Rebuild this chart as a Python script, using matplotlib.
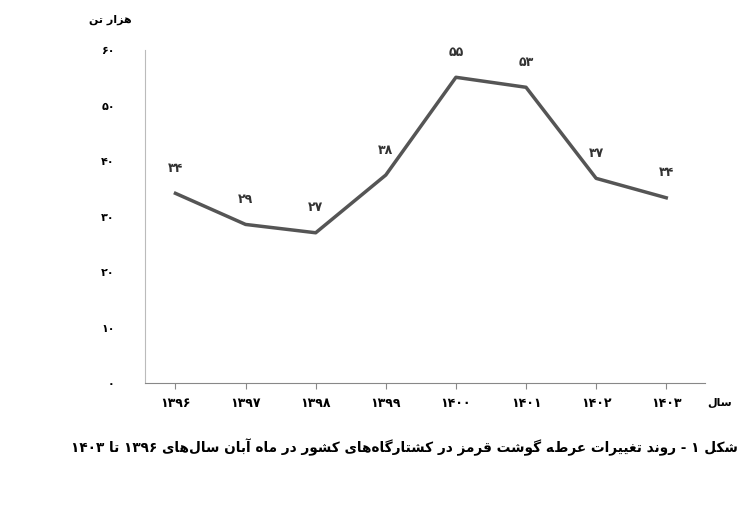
import matplotlib.pyplot as plt

years = ['۱۳۹۶', '۱۳۹۷', '۱۳۹۸', '۱۳۹۹', '۱۴۰۰', '۱۴۰۱', '۱۴۰۲', '۱۴۰۳']
supply = [34.2, 28.6, 27.1, 37.5, 55.1, 53.3, 36.9, 33.4]
point_labels = ['۳۴', '۲۹', '۲۷', '۳۸', '۵۵', '۵۳', '۳۷', '۳۴']
y_ticks = [0, 10, 20, 30, 40, 50, 60]
y_tick_labels = ['۰', '۱۰', '۲۰', '۳۰', '۴۰', '۵۰', '۶۰']
caption = 'شکل ۱ - روند تغییرات عرضه گوشت قرمز در کشتارگاه‌های کشور در ماه آبان سال‌های ۱۳۹۶ تا ۱۴۰۳'
unit_label = 'هزار تن'
x_label = 'سال'

# presentation forms: isolated, final, initial, medial (None = right-joining only)
FORMS = {
    'ا': (0xFE8D, 0xFE8E, None, None), 'آ': (0xFE81, 0xFE82, None, None),
    'د': (0xFEA9, 0xFEAA, None, None), 'ر': (0xFEAD, 0xFEAE, None, None),
    'ز': (0xFEAF, 0xFEB0, None, None), 'و': (0xFEED, 0xFEEE, None, None),
    'ب': (0xFE8F, 0xFE90, 0xFE91, 0xFE92), 'ت': (0xFE95, 0xFE96, 0xFE97, 0xFE98),
    'س': (0xFEB1, 0xFEB2, 0xFEB3, 0xFEB4), 'ش': (0xFEB5, 0xFEB6, 0xFEB7, 0xFEB8),
    'ض': (0xFEBF, 0xFEC0, 0xFEC1, 0xFEC2), 'ع': (0xFEC9, 0xFECA, 0xFECB, 0xFECC),
    'غ': (0xFECD, 0xFECE, 0xFECF, 0xFED0), 'ف': (0xFED1, 0xFED2, 0xFED3, 0xFED4),
    'ق': (0xFED5, 0xFED6, 0xFED7, 0xFED8), 'ل': (0xFEDD, 0xFEDE, 0xFEDF, 0xFEE0),
    'م': (0xFEE1, 0xFEE2, 0xFEE3, 0xFEE4), 'ن': (0xFEE5, 0xFEE6, 0xFEE7, 0xFEE8),
    'ه': (0xFEE9, 0xFEEA, 0xFEEB, 0xFEEC), 'ی': (0xFBFC, 0xFBFD, 0xFBFE, 0xFBFF),
    'ک': (0xFB8E, 0xFB8F, 0xFB90, 0xFB91), 'گ': (0xFB92, 0xFB93, 0xFB94, 0xFB95),
}


def shape_word(w):
    out = []
    for i, c in enumerate(w):
        if c not in FORMS:
            if c != '\u200c':
                out.append(c)
            continue
        prev = w[i - 1] if i > 0 else ''
        nxt = w[i + 1] if i + 1 < len(w) else ''
        jp = prev in FORMS and FORMS[prev][2] is not None
        jn = FORMS[c][2] is not None and nxt in FORMS
        f = FORMS[c]
        code = f[3] if jp and jn else f[1] if jp else f[2] if jn else f[0]
        out.append(chr(code))
    return ''.join(out)


def rtl(text):
    words = text.split(' ')
    vis = []
    for w in reversed(words):
        if all(ch in '۰۱۲۳۴۵۶۷۸۹' for ch in w):
            vis.append(w)
        else:
            vis.append(shape_word(w)[::-1])
    return ' '.join(vis)


plt.rcParams['font.family'] = ['DejaVu Sans']
fig = plt.figure(figsize=(7.53, 5.11), dpi=100)
ax = fig.add_axes([0.193, 0.25, 0.743, 0.652])

x = list(range(len(years)))
ax.plot(x, supply, color='#555555', linewidth=2.5)
for xi, v, lab in zip(x, supply, point_labels):
    ax.text(xi, v + 3.3, lab, ha='center', va='bottom', fontsize=9, fontweight='bold', color='#333333')

ax.set_xlim(-0.43, 7.55)
ax.set_ylim(0, 60)
ax.set_xticks(x)
ax.set_xticklabels(years, fontsize=9, fontweight='bold')
ax.set_yticks(y_ticks)
ax.set_yticklabels(y_tick_labels, fontsize=8, fontweight='bold')
for s in ['top', 'right']:
    ax.spines[s].set_visible(False)
ax.spines['left'].set_color('#bbbbbb')
ax.spines['bottom'].set_color('#888888')
ax.tick_params(axis='y', length=0, pad=22)
ax.tick_params(axis='x', length=4, color='#888888', pad=6)

fig.text(0.147, 0.955, rtl(unit_label), ha='center', fontsize=8, fontweight='bold')
fig.text(0.955, 0.205, rtl(x_label), ha='center', fontsize=8, fontweight='bold')
fig.text(0.98, 0.115, rtl(caption), ha='right', fontsize=9.8, fontweight='bold')

fig.savefig('out.png', dpi=100)
